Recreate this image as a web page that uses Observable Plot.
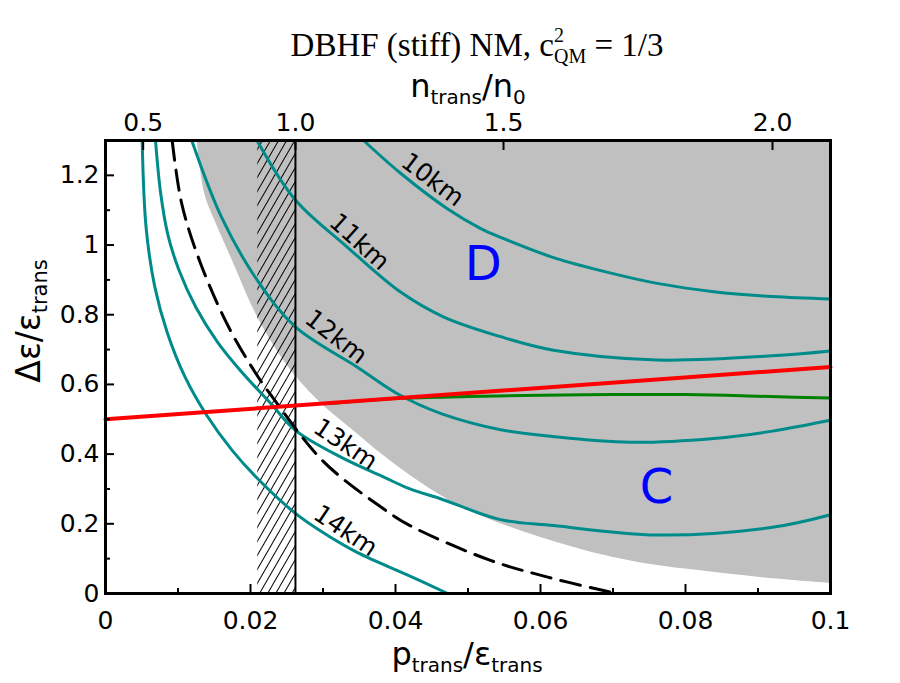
<!DOCTYPE html>
<html>
<head>
<meta charset="utf-8">
<script src="https://cdn.jsdelivr.net/npm/d3@7"></script>
<script src="https://cdn.jsdelivr.net/npm/@observablehq/plot@0.6"></script>
<style>
  html, body { margin: 0; padding: 0; background: #fff; }
  #chart { width: 900px; height: 683px; }
</style>
</head>
<body>
<div id="chart"></div>
<script>
(function () {
// ---- axis ticks ----
const xTicks = [0, 0.02, 0.04, 0.06, 0.08, 0.1];
const xTickLabels = ["0", "0.02", "0.04", "0.06", "0.08", "0.1"];
const xMinor = [0.01, 0.03, 0.05, 0.07, 0.09];
const yTicks = [0, 0.2, 0.4, 0.6, 0.8, 1, 1.2];
const yTickLabels = ["0", "0.2", "0.4", "0.6", "0.8", "1", "1.2"];
const yMinor = [0.1, 0.3, 0.5, 0.7, 0.9, 1.1];
// top axis: n_trans/n0 positions on the p/eps scale
const topTickPos = [0.0052, 0.0262, 0.0549, 0.0920];
const topTickLabels = ["0.5", "1.0", "1.5", "2.0"];

// ---- shaded region (lower boundary, filled up to top) ----
const grayX = [0.01265, 0.0131, 0.0138, 0.01517, 0.01766, 0.02069, 0.02345, 0.02621, 0.0300, 0.0338, 0.03724, 0.0407, 0.0462, 0.0503, 0.0552, 0.0600, 0.0683, 0.0752, 0.0821, 0.0903, 0.1000];
const grayY = [1.300, 1.216, 1.138, 1.066, 0.948, 0.805, 0.704, 0.624, 0.540, 0.474, 0.414, 0.359, 0.282, 0.236, 0.195, 0.161, 0.112, 0.083, 0.065, 0.046, 0.029];

// hatched band and vertical line (n = n0)
const hatchX1 = [0.0210];
const hatchX2 = [0.0262];
const nSatX = [0.0262];

// ---- radius contours ----
const r10X = [0.0356, 0.0407, 0.0471, 0.0517, 0.0545, 0.0618, 0.0700, 0.0761, 0.0839, 0.0920, 0.1000];
const r10Y = [1.30, 1.206, 1.105, 1.048, 1.022, 0.964, 0.918, 0.89, 0.866, 0.852, 0.845];
const r11X = [0.0209, 0.0262, 0.0333, 0.0407, 0.0466, 0.0545, 0.0618, 0.0761, 0.0920, 0.1000];
const r11Y = [1.30, 1.129, 0.995, 0.865, 0.794, 0.737, 0.698, 0.670, 0.682, 0.696];
const r12X = [0.0119, 0.0160, 0.0209, 0.0262, 0.0347, 0.0402, 0.0462, 0.0545, 0.0618, 0.0724, 0.0839, 0.0920, 0.1000];
const r12Y = [1.30, 1.08, 0.90, 0.765, 0.650, 0.574, 0.517, 0.470, 0.450, 0.434, 0.445, 0.466, 0.497];
const r13X = [0.0069, 0.0076, 0.0086, 0.0101, 0.0125, 0.0155, 0.0186, 0.0228, 0.0262, 0.0324, 0.0384, 0.0420, 0.0462, 0.0545, 0.0618, 0.0761, 0.0920, 0.1000];
const r13Y = [1.30, 1.15, 1.03, 0.93, 0.82, 0.72, 0.64, 0.545, 0.468, 0.392, 0.334, 0.300, 0.272, 0.212, 0.195, 0.168, 0.190, 0.226];
const r14X = [0.00506, 0.0056, 0.0068, 0.0085, 0.0110, 0.0140, 0.0175, 0.0212, 0.0262, 0.0300, 0.0347, 0.0420, 0.0472];
const r14Y = [1.30, 1.05, 0.88, 0.75, 0.62, 0.51, 0.41, 0.325, 0.23, 0.175, 0.118, 0.050, 0.0];

// ---- dashed curve ----
const dashX = [0.0092, 0.0105, 0.0131, 0.0172, 0.0211, 0.0228, 0.0300, 0.0380, 0.0420, 0.0531, 0.0610, 0.0690, 0.0705];
const dashY = [1.30, 1.12, 0.948, 0.756, 0.62, 0.57, 0.380, 0.248, 0.195, 0.095, 0.047, 0.007, 0.0];

// ---- green and red lines ----
const greenX = [0.0310, 0.0407, 0.0500, 0.0600, 0.0700, 0.0800, 0.0900, 0.1000];
const greenY = [0.545, 0.560, 0.565, 0.569, 0.571, 0.571, 0.566, 0.561];
const redX = [0, 0.1];
const redY = [0.50, 0.65];

// ---- curve labels ----
const curveLabels = ["10km", "11km", "12km", "13km", "14km"];
const curveLabelX = [0.0451, 0.0350, 0.0318, 0.0331, 0.0331];
const curveLabelY = [1.187, 1.009, 0.736, 0.428, 0.180];
const curveLabelAngle = [37, 42, 38, 34, 34];
const regionLabels = ["D", "C"];
const regionLabelX = [0.0521, 0.0760];
const regionLabelY = [0.943, 0.305];

const idx = a => a.map((_, i) => i);
const teal = "#008b8b";
const sans = "'DejaVu Sans', Verdana, sans-serif";
const curve = (X, Y, opts) => Plot.line(idx(X), {x: i => X[i], y: i => Y[i], ...opts});

const chart = Plot.plot({
  width: 900,
  height: 683,
  marginLeft: 105,
  marginRight: 70,
  marginTop: 140,
  marginBottom: 90,
  style: {fontFamily: sans, background: "white", overflow: "visible"},
  x: {domain: [0, 0.1]},
  y: {domain: [0, 1.3]},
  marks: [
    Plot.areaY(idx(grayX), {x: i => grayX[i], y1: i => grayY[i], y2: () => 1.3, fill: "#c0c0c0", curve: "catmull-rom"}),
    Plot.rect(idx(hatchX1), {x1: i => hatchX1[i], x2: i => hatchX2[i], fill: "url(#hatch)"}),
    curve(r10X, r10Y, {stroke: teal, strokeWidth: 3, curve: "catmull-rom"}),
    curve(r11X, r11Y, {stroke: teal, strokeWidth: 3, curve: "catmull-rom"}),
    curve(r12X, r12Y, {stroke: teal, strokeWidth: 3, curve: "catmull-rom"}),
    curve(r13X, r13Y, {stroke: teal, strokeWidth: 3, curve: "catmull-rom"}),
    curve(r14X, r14Y, {stroke: teal, strokeWidth: 3, curve: "catmull-rom"}),
    curve(dashX, dashY, {stroke: "black", strokeWidth: 3, strokeDasharray: "20,10", curve: "catmull-rom"}),
    Plot.ruleX(nSatX, {stroke: "black", strokeWidth: 2}),
    curve(greenX, greenY, {stroke: "#008000", strokeWidth: 3, curve: "monotone-x"}),
    curve(redX, redY, {stroke: "#ff0000", strokeWidth: 4}),
    Plot.text(idx(curveLabels), {x: i => curveLabelX[i], y: i => curveLabelY[i], text: i => curveLabels[i], rotate: i => curveLabelAngle[i], fontSize: 25, fill: "black"}),
    Plot.text(idx(regionLabels), {x: i => regionLabelX[i], y: i => regionLabelY[i], text: i => regionLabels[i], fontSize: 48, fill: "#0000ff"}),
    // axes ticks, shifted so they point inward
    Plot.axisX(xTicks, {anchor: "bottom", tickSize: 9, dy: -9, tickFormat: () => "", label: null, strokeWidth: 2}),
    Plot.axisX(xMinor, {anchor: "bottom", tickSize: 5, dy: -5, tickFormat: () => "", label: null, strokeWidth: 2}),
    Plot.axisX(topTickPos, {anchor: "top", tickSize: 9, dy: 9, tickFormat: () => "", label: null, strokeWidth: 2}),
    Plot.axisY(yTicks, {anchor: "left", tickSize: 9, dx: 9, tickFormat: () => "", label: null, strokeWidth: 2}),
    Plot.axisY(yMinor, {anchor: "left", tickSize: 5, dx: 5, tickFormat: () => "", label: null, strokeWidth: 2}),
    // tick labels
    Plot.text(xTicks, {x: d => d, text: (d, i) => xTickLabels[i], frameAnchor: "bottom", lineAnchor: "top", dy: 18, fontSize: 25, fill: "black"}),
    Plot.text(yTicks, {y: d => d, text: (d, i) => yTickLabels[i], frameAnchor: "left", textAnchor: "end", dx: -6, fontSize: 25, fill: "black"}),
    Plot.text(topTickPos, {x: d => d, text: (d, i) => topTickLabels[i], frameAnchor: "top", lineAnchor: "bottom", dy: -10, fontSize: 25, fill: "black"}),
    Plot.frame({stroke: "black", strokeWidth: 3})
  ]
});

// hatch pattern
const svg = d3.select(chart);
const defs = svg.insert("defs", ":first-child");
const pat = defs.append("pattern")
  .attr("id", "hatch")
  .attr("patternUnits", "userSpaceOnUse")
  .attr("width", 7).attr("height", 7)
  .attr("patternTransform", "rotate(30)");
pat.append("line").attr("x1", 3.5).attr("y1", -1).attr("x2", 3.5).attr("y2", 8)
  .attr("stroke", "black").attr("stroke-width", 1);

// title and axis labels (real text)
const titleText = svg.append("text")
  .attr("x", 477).attr("y", 56)
  .attr("text-anchor", "middle")
  .attr("font-family", "'Liberation Serif', 'Times New Roman', serif")
  .attr("font-size", 33).attr("fill", "black");
titleText.append("tspan").text("DBHF (stiff) NM, c");
titleText.append("tspan").attr("font-size", 20).attr("dy", -14).text("2");
titleText.append("tspan").attr("font-size", 20).attr("dx", -10).attr("dy", 21).text("QM");
titleText.append("tspan").attr("dy", -7).text(" = 1/3");

const topLabel = svg.append("text")
  .attr("x", 468).attr("y", 97)
  .attr("text-anchor", "middle")
  .attr("font-family", sans).attr("font-size", 32).attr("fill", "black");
topLabel.append("tspan").text("n");
topLabel.append("tspan").attr("font-size", 20).attr("dy", 7).text("trans");
topLabel.append("tspan").attr("dy", -7).text("/n");
topLabel.append("tspan").attr("font-size", 20).attr("dy", 7).text("0");

const botLabel = svg.append("text")
  .attr("x", 467).attr("y", 665)
  .attr("text-anchor", "middle")
  .attr("font-family", sans).attr("font-size", 32).attr("fill", "black");
botLabel.append("tspan").text("p");
botLabel.append("tspan").attr("font-size", 20).attr("dy", 7).text("trans");
botLabel.append("tspan").attr("dy", -7).text("/ε");
botLabel.append("tspan").attr("font-size", 20).attr("dy", 7).text("trans");

const yLabel = svg.append("text")
  .attr("transform", "translate(40,321) rotate(-90)")
  .attr("text-anchor", "middle")
  .attr("font-family", sans).attr("font-size", 33).attr("fill", "black");
yLabel.append("tspan").text("Δε/ε");
yLabel.append("tspan").attr("font-size", 21).attr("dy", 7).text("trans");

document.getElementById("chart").appendChild(chart);
})();
</script>
</body>
</html>
